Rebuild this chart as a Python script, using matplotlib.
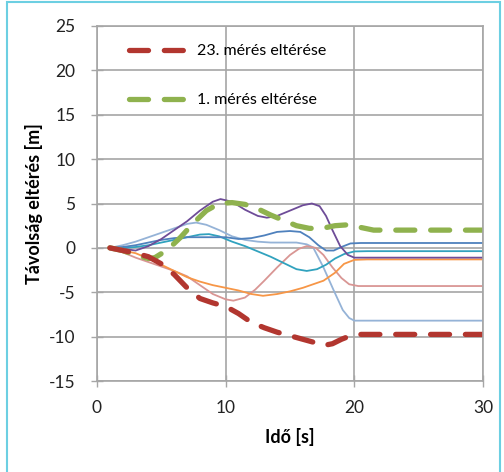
import matplotlib
matplotlib.use("Agg")
import matplotlib.pyplot as plt
from matplotlib.patches import Rectangle

plt.rcParams["font.family"] = ["Lato", "DejaVu Sans"]
plt.rcParams["axes.unicode_minus"] = False

# ---------------------------------------------------------------------------
# Data
# ---------------------------------------------------------------------------

purple_x = [1, 2, 3, 4, 5, 6, 7, 8, 9, 9.6, 10.5, 11.5, 12.5, 13.2, 14, 15, 16, 16.7,
            17.3, 17.8, 18.3, 18.9, 19.5, 20, 21, 30]
purple_y = [0, -0.1, -0.3, 0.2, 1.0, 2.0, 3.0, 4.2, 5.2, 5.5, 5.2, 4.3, 3.6, 3.4, 3.6,
            4.2, 4.8, 5.0, 4.7, 3.6, 2.0, 0.2, -0.8, -1.1, -1.1, -1.1]

lightblue_x = [1, 2, 3, 4, 5, 6, 7, 7.7, 8.5, 9.5, 10.5, 11.5, 12.5, 13.5, 14.5, 15.5,
               16.3, 16.8, 17.6, 18.4, 19.1, 19.6, 20, 21, 30]
lightblue_y = [0, 0.3, 0.7, 1.2, 1.7, 2.2, 2.7, 2.85, 2.6, 2.0, 1.3, 0.9, 0.7, 0.6, 0.6,
               0.6, 0.4, 0.05, -2.2, -4.8, -7.0, -7.9, -8.2, -8.2, -8.2]

blue_x = [1, 2, 3, 4, 5, 6, 7, 8, 9, 10, 11, 12, 13, 14, 15, 15.8, 16.5, 17.2, 17.8,
          18.4, 19, 19.7, 20.5, 30]
blue_y = [0, 0.1, 0.3, 0.6, 0.9, 1.1, 1.2, 1.2, 1.2, 1.2, 1.0, 1.1, 1.4, 1.8, 1.9, 1.8,
          1.2, 0.3, -0.3, -0.3, 0.1, 0.5, 0.55, 0.55]

teal_x = [1, 2, 3, 4, 5, 6, 7, 8, 8.7, 9.5, 10.5, 11.5, 12.5, 13.5, 14.5, 15.5, 16.3,
          17.1, 17.8, 18.5, 19.2, 20, 21, 30]
teal_y = [0, 0.0, 0.1, 0.3, 0.6, 0.9, 1.2, 1.5, 1.55, 1.3, 0.7, 0.2, -0.4, -1.0, -1.7,
          -2.4, -2.6, -2.4, -1.9, -1.2, -0.7, -0.4, -0.37, -0.37]

orange_x = [1, 2, 3, 4, 5, 6, 7, 8, 9, 10, 11, 12, 12.9, 14, 15, 16, 17, 17.6, 18.5,
            19.2, 20, 21, 30]
orange_y = [0, -0.3, -0.6, -1.2, -1.9, -2.6, -3.3, -3.8, -4.2, -4.5, -4.8, -5.2, -5.4,
            -5.2, -4.9, -4.5, -4.0, -3.7, -2.8, -1.8, -1.35, -1.3, -1.3]

pink_x = [1, 2, 3, 4, 5, 6, 7, 8, 9, 10, 10.6, 11.5, 12.3, 13, 14, 15, 15.7, 16.3, 17,
          17.6, 18.3, 19, 19.6, 20.3, 21, 30]
pink_y = [0, -0.5, -1.1, -1.6, -2.1, -2.6, -3.2, -4.2, -5.2, -5.8, -5.95, -5.6, -4.7,
          -3.7, -2.2, -0.8, -0.1, 0.2, 0.0, -0.8, -2.2, -3.4, -4.1, -4.3, -4.3, -4.3]

green_x = [1, 2, 3, 4, 4.5, 5.5, 6.5, 7.5, 8.5, 9.5, 10.5, 11.5, 12.5, 13.5, 14.5, 15.5,
           16.5, 17.5, 18.5, 19.5, 20.5, 21.5, 30]
green_y = [0, -0.3, -0.8, -1.2, -1.1, -0.2, 1.2, 2.8, 4.2, 5.0, 5.1, 4.9, 4.4, 3.7, 3.1,
           2.5, 2.2, 2.2, 2.5, 2.6, 2.3, 2.0, 2.0]

red_x = [1, 2, 3, 4, 5, 6, 7, 8, 9, 10, 11, 12, 13, 14, 15, 16, 17, 17.6, 18.3, 19,
         19.7, 20.5, 21.5, 30]
red_y = [0, -0.3, -0.6, -1.0, -1.8, -3.0, -4.5, -5.7, -6.2, -6.6, -7.4, -8.4, -9.0, -9.5,
         -9.9, -10.3, -10.7, -11.0, -10.8, -10.3, -9.9, -9.75, -9.75, -9.75]

X_TICKS = [0, 10, 20, 30]
Y_TICKS = [-15, -10, -5, 0, 5, 10, 15, 20, 25]

GRID = "#A6A6A6"

# ---------------------------------------------------------------------------
# Figure
# ---------------------------------------------------------------------------

fig = plt.figure(figsize=(5.04, 4.72), dpi=100)
fig.patches.append(Rectangle((7 / 504, -0.05), 493 / 504, 1.05 - 1.5 / 472,
                             transform=fig.transFigure, fill=False,
                             edgecolor="#6CCFE2", linewidth=1.5))

ax = fig.add_axes([97 / 504, 1 - 381 / 472, 386 / 504, 355 / 472])

thin = dict(linewidth=1.3, solid_capstyle="round")
ax.plot(lightblue_x, lightblue_y, color="#95B3D7", **thin)
ax.plot(pink_x, pink_y, color="#D99694", **thin)
ax.plot(orange_x, orange_y, color="#F79646", **thin)
ax.plot(teal_x, teal_y, color="#31A2BE", **thin)
ax.plot(blue_x, blue_y, color="#4F81BD", **thin)
ax.plot(purple_x, purple_y, color="#6E4C98", **thin)

thick = dict(linewidth=3.8, dashes=(3.6, 3.0), dash_capstyle="round")
ax.plot(green_x, green_y, color="#8FB24E", label="1. mérés eltérése", **thick)
ax.plot(red_x, red_y, color="#B2362F", label="23. mérés eltérése", **thick)

ax.set_xlim(0, 30)
ax.set_ylim(-15, 25)
ax.set_xticks(X_TICKS)
ax.set_yticks(Y_TICKS)
ax.tick_params(axis="both", colors=GRID, labelcolor="#222222", labelsize=12.5,
               direction="inout", length=9, width=1)
ax.tick_params(axis="x", pad=9)
ax.tick_params(axis="y", pad=11)
ax.grid(color=GRID, linewidth=1.2)
for s in ax.spines.values():
    s.set_color(GRID)
    s.set_linewidth(1.2)

ax.set_xlabel("Idő [s]", fontsize=13, fontweight="bold", labelpad=9)
ax.set_ylabel("Távolság eltérés [m]", fontsize=13, fontweight="bold", labelpad=4)

handles, labels = ax.get_legend_handles_labels()
ax.legend(handles[::-1], labels[::-1], loc="upper left", bbox_to_anchor=(0.045, 0.99),
          frameon=False, fontsize=11.5, handlelength=3.6, labelspacing=2.2,
          handletextpad=0.7)

fig.savefig("out.png", dpi=100)
